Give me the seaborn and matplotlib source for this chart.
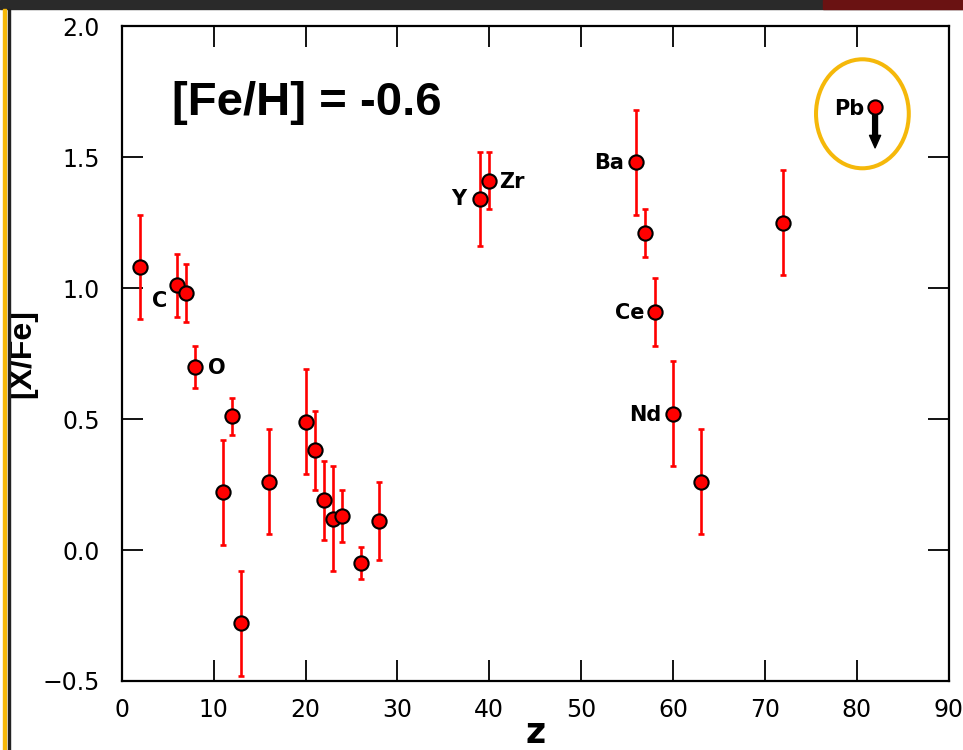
import numpy as np
import pandas as pd
import matplotlib
matplotlib.use("Agg")
import matplotlib.pyplot as plt
from matplotlib.patches import Ellipse, Rectangle
import seaborn as sns

# Abundance pattern: atomic number, [X/Fe] and 1-sigma uncertainty
atomic_number = [2, 6, 7, 8, 11, 12, 13, 16, 20, 21, 22, 23, 24, 26, 28,
                 39, 40, 56, 57, 58, 60, 63, 72, 82]
x_fe = [1.08, 1.01, 0.98, 0.70, 0.22, 0.51, -0.28, 0.26, 0.49, 0.38, 0.19,
        0.12, 0.13, -0.05, 0.11, 1.34, 1.41, 1.48, 1.21, 0.91, 0.52, 0.26,
        1.25, 1.69]
x_fe_err = [0.20, 0.12, 0.11, 0.08, 0.20, 0.07, 0.20, 0.20, 0.20, 0.15, 0.15,
            0.20, 0.10, 0.06, 0.15, 0.18, 0.11, 0.20, 0.09, 0.13, 0.20, 0.20,
            0.20, np.nan]
upper_limit = [False] * 23 + [True]

# Element names written next to selected points
label_z = [6, 8, 39, 40, 56, 58, 60, 82]
label_text = ["C", "O", "Y", "Zr", "Ba", "Ce", "Nd", "Pb"]

metallicity_text = "[Fe/H] = -0.6"
x_ticks = [0, 10, 20, 30, 40, 50, 60, 70, 80, 90]
y_ticks = [-0.5, 0.0, 0.5, 1.0, 1.5, 2.0]

df = pd.DataFrame({"Z": atomic_number, "XFe": x_fe, "err": x_fe_err,
                   "ul": upper_limit})

sns.set_style("white")
plt.rcParams["font.family"] = ["DejaVu Sans"]
plt.rcParams.update({"text.color": "black", "axes.labelcolor": "black",
                     "xtick.color": "black", "ytick.color": "black",
                     "xtick.bottom": True, "ytick.left": True})

fig = plt.figure(figsize=(9.63, 7.5), dpi=100)
ax = fig.add_axes([0.1266, 0.092, 0.8584, 0.8733])

meas = df[~df["ul"]]
ax.errorbar(meas["Z"], meas["XFe"], yerr=meas["err"], fmt="none",
            ecolor="#ff0000", elinewidth=1.9, capsize=2.3, capthick=1.9,
            zorder=2)

# upper limit drawn as a downward arrow from the point
for _, r in df[df["ul"]].iterrows():
    ax.annotate("", xy=(r["Z"], r["XFe"] - 0.155), xytext=(r["Z"], r["XFe"]),
                arrowprops=dict(arrowstyle="simple,head_length=0.9,head_width=0.8,tail_width=0.35",
                                color="black", shrinkA=0, shrinkB=0),
                zorder=3)

sns.scatterplot(data=df, x="Z", y="XFe", ax=ax, color="#ff0000",
                edgecolor="black", linewidth=1.5, s=105, zorder=4,
                legend=False)

# label offsets in pixels (dx, dy) and horizontal alignment
offsets = {"C": (-17, -16, "center"), "O": (21, -1, "center"),
           "Y": (-14, 0, "right"), "Zr": (10, -1, "left"),
           "Ba": (-12, -1, "right"), "Ce": (-10, -1, "right"),
           "Nd": (-12, -1, "right"), "Pb": (-11, -2, "right")}
zmap = dict(zip(atomic_number, x_fe))
for z, name in zip(label_z, label_text):
    dx, dy, ha = offsets[name]
    ax.annotate(name, xy=(z, zmap[z]), xytext=(dx, dy),
                textcoords="offset pixels", ha=ha, va="center",
                fontsize=15, fontweight="bold", color="black", zorder=5)

# highlight around the Pb upper limit
ax.add_patch(Ellipse((80.62, 1.665), 10.1, 0.416, fill=False,
                     edgecolor="#f5b80a", linewidth=2.9, zorder=5))

ax.text(0.0606, 0.882, metallicity_text, transform=ax.transAxes,
        ha="left", va="center", fontsize=34, fontweight="bold",
        family=["Liberation Sans", "DejaVu Sans"])

ax.set_xlim(0, 90)
ax.set_ylim(-0.5, 2.0)
ax.set_xticks(x_ticks)
ax.set_yticks(y_ticks)
ax.set_yticklabels([f"{v:.1f}".replace("-", "\u2212") for v in y_ticks])
ax.tick_params(axis="both", which="major", direction="in", length=15,
               width=1.3, color="black", labelcolor="black", labelsize=17,
               bottom=True, left=True, top=True, right=True,
               labeltop=False, labelright=False)
ax.tick_params(axis="y", pad=16)
ax.tick_params(axis="x", pad=12)
for s in ax.spines.values():
    s.set_visible(True)
    s.set_color("black")
    s.set_linewidth(1.6)

ax.set_xlabel("z", fontsize=25, fontweight="bold", labelpad=-4)
ax.set_ylabel("[X/Fe]", fontsize=23, fontweight="bold", labelpad=4,
              family=["Liberation Sans", "DejaVu Sans"])

# window chrome around the slide
fig.patches.append(Rectangle((0, 1 - 9 / 750), 1, 9 / 750,
                             transform=fig.transFigure, color="#2a2a2a",
                             zorder=10))
fig.patches.append(Rectangle((0.855, 1 - 9 / 750), 0.145, 9 / 750,
                             transform=fig.transFigure, color="#6a1212",
                             zorder=11))
fig.patches.append(Rectangle((3 / 963, 0), 2.5 / 963, 1 - 9 / 750,
                             transform=fig.transFigure, color="#f5b80a",
                             zorder=10))
fig.patches.append(Rectangle((8 / 963, 0), 2 / 963, 1 - 9 / 750,
                             transform=fig.transFigure, color="#222222",
                             zorder=10))

fig.savefig("out.png", dpi=100)
